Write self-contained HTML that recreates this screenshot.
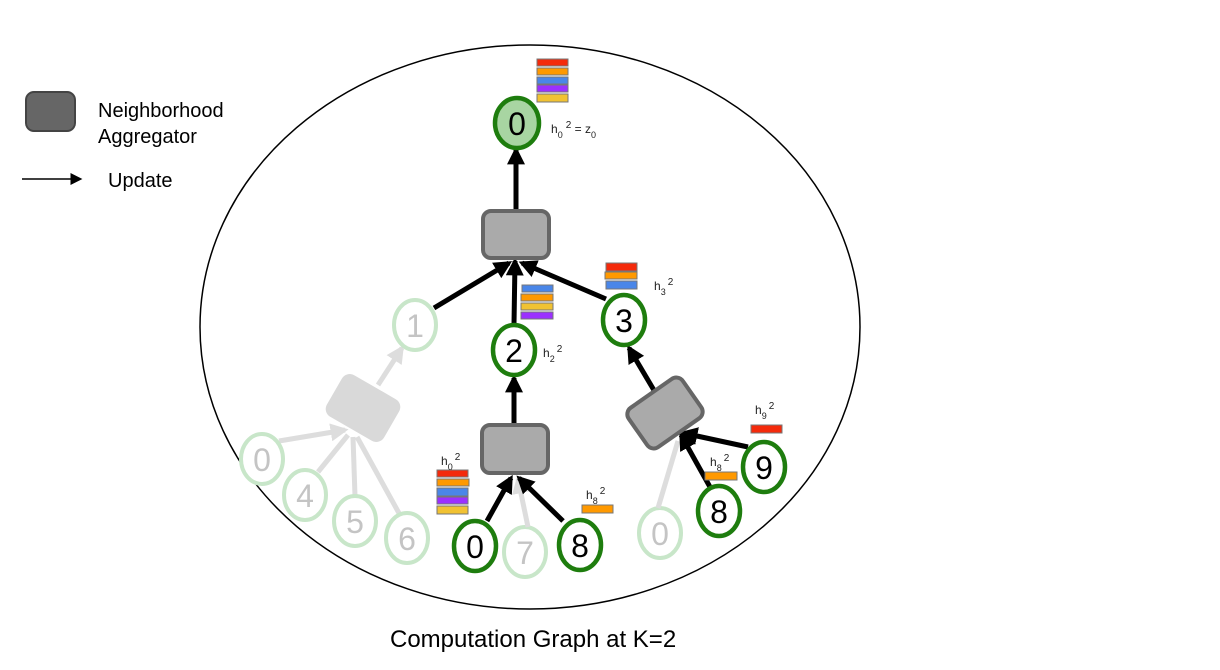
<!DOCTYPE html>
<html><head><meta charset="utf-8"><style>
html,body{margin:0;padding:0;background:#fff}
svg{display:block}
text{font-family:"Liberation Sans",Arial,sans-serif}
</style></head><body>
<svg width="1220" height="670" viewBox="0 0 1220 670" xmlns="http://www.w3.org/2000/svg">
<defs>
<marker id="ab" viewBox="0 0 10 10" refX="8" refY="5" markerWidth="3.6" markerHeight="3.6" orient="auto" markerUnits="strokeWidth"><path d="M0,0 L10,5 L0,10 z" fill="#000"/></marker>
<marker id="ag" viewBox="0 0 10 10" refX="8" refY="5" markerWidth="3.6" markerHeight="3.6" orient="auto" markerUnits="strokeWidth"><path d="M0,0 L10,5 L0,10 z" fill="#ddd"/></marker>
<marker id="al" viewBox="0 0 10 10" refX="8" refY="5" markerWidth="8" markerHeight="8" orient="auto" markerUnits="strokeWidth"><path d="M0,0 L10,5 L0,10 z" fill="#000"/></marker>
</defs>
<ellipse cx="530" cy="327" rx="330" ry="282" fill="none" stroke="#000" stroke-width="1.5"/>

<!-- legend -->
<rect x="26" y="92" width="49" height="39" rx="8" fill="#666" stroke="#444" stroke-width="2"/>
<text x="98" y="117" font-size="20">Neighborhood</text>
<text x="98" y="143" font-size="20">Aggregator</text>
<line x1="22" y1="179" x2="80" y2="179" stroke="#000" stroke-width="1.5" marker-end="url(#al)"/>
<text x="108" y="187" font-size="20">Update</text>

<!-- faded left subtree -->
<g stroke="#ddd" stroke-width="5" fill="none">
<line x1="378" y1="385" x2="402" y2="348" marker-end="url(#ag)"/>
<line x1="279" y1="441" x2="345" y2="430" marker-end="url(#ag)"/>
<line x1="318" y1="472" x2="348" y2="435"/>
<line x1="355" y1="496" x2="353" y2="437"/>
<line x1="400" y1="515" x2="357" y2="437"/>
</g>
<rect x="330" y="384" width="66" height="48" rx="9" fill="#d9d9d9" transform="rotate(30 363 408)"/>
<g fill="#fff" stroke="#c8e6c9" stroke-width="4">
<ellipse cx="415" cy="325" rx="21" ry="25"/>
<ellipse cx="262" cy="459" rx="21" ry="25"/>
<ellipse cx="305" cy="495" rx="21" ry="25"/>
<ellipse cx="355" cy="521" rx="21" ry="25"/>
<ellipse cx="407" cy="538" rx="21" ry="25"/>
<ellipse cx="525" cy="552" rx="21" ry="25"/>
<ellipse cx="660" cy="533" rx="21" ry="25"/>
</g>
<g fill="#c4c4c4" font-size="32" text-anchor="middle">
<text x="415" y="337">1</text>
<text x="262" y="471">0</text>
<text x="305" y="507">4</text>
<text x="355" y="533">5</text>
<text x="407" y="550">6</text>
<text x="525" y="564">7</text>
<text x="660" y="545">0</text>
</g>
<line x1="528" y1="527" x2="518" y2="479" stroke="#ddd" stroke-width="5" marker-end="url(#ag)"/>
<line x1="658" y1="508" x2="678" y2="441" stroke="#ddd" stroke-width="5"/>

<!-- black arrows -->
<g stroke="#000" stroke-width="5" fill="none">
<line x1="516" y1="209" x2="516" y2="150" marker-end="url(#ab)"/>
<line x1="434" y1="308" x2="509" y2="263" marker-end="url(#ab)"/>
<line x1="514" y1="324" x2="515" y2="261" marker-end="url(#ab)"/>
<line x1="606" y1="299" x2="522" y2="263" marker-end="url(#ab)"/>
<line x1="514" y1="424" x2="514" y2="378" marker-end="url(#ab)"/>
<line x1="487" y1="521" x2="511" y2="478" marker-end="url(#ab)"/>
<line x1="563" y1="521" x2="519" y2="478" marker-end="url(#ab)"/>
<line x1="655" y1="392" x2="629" y2="348" marker-end="url(#ab)"/>
<line x1="748" y1="447" x2="683" y2="433" marker-end="url(#ab)"/>
<line x1="710" y1="487" x2="681" y2="435" marker-end="url(#ab)"/>
</g>

<!-- aggregators -->
<rect x="483" y="211" width="66" height="47" rx="8" fill="#aaa" stroke="#666" stroke-width="4"/>
<rect x="482" y="425" width="66" height="48" rx="8" fill="#aaa" stroke="#666" stroke-width="4"/>
<rect x="632" y="389" width="66" height="48" rx="8" fill="#aaa" stroke="#666" stroke-width="4" transform="rotate(-35 665 413)"/>

<!-- green nodes -->
<g stroke="#1e7d0e" stroke-width="4.5">
<ellipse cx="517" cy="123" rx="22" ry="25" fill="#a8d5a2"/>
<ellipse cx="514" cy="350" rx="21" ry="25" fill="#fff"/>
<ellipse cx="624" cy="320" rx="21" ry="25" fill="#fff"/>
<ellipse cx="475" cy="546" rx="21" ry="25" fill="#fff"/>
<ellipse cx="580" cy="545" rx="21" ry="25" fill="#fff"/>
<ellipse cx="764" cy="467" rx="21" ry="25" fill="#fff"/>
<ellipse cx="719" cy="511" rx="21" ry="25" fill="#fff"/>
</g>
<g fill="#000" font-size="32" text-anchor="middle">
<text x="517" y="135">0</text>
<text x="514" y="362">2</text>
<text x="624" y="332">3</text>
<text x="475" y="558">0</text>
<text x="580" y="557">8</text>
<text x="764" y="479">9</text>
<text x="719" y="523">8</text>
</g>

<!-- feature bars -->
<g stroke="#777" stroke-width="1">
<rect x="537" y="59" width="31" height="7" fill="#f42a0b"/>
<rect x="537" y="68" width="31" height="7" fill="#ff9900"/>
<rect x="537" y="77" width="31" height="7" fill="#4a86e8"/>
<rect x="537" y="85" width="31" height="7" fill="#9b30ff"/>
<rect x="537" y="94" width="31" height="8" fill="#f1c232"/>

<rect x="522" y="285" width="31" height="7" fill="#4a86e8"/>
<rect x="521" y="294" width="32" height="7" fill="#ff9900"/>
<rect x="521" y="303" width="32" height="7" fill="#f1c232"/>
<rect x="521" y="312" width="32" height="7" fill="#9b30ff"/>

<rect x="606" y="263" width="31" height="8" fill="#f42a0b"/>
<rect x="605" y="272" width="32" height="7" fill="#ff9900"/>
<rect x="606" y="281" width="31" height="8" fill="#4a86e8"/>

<rect x="437" y="470" width="31" height="7" fill="#f42a0b"/>
<rect x="437" y="479" width="32" height="7" fill="#ff9900"/>
<rect x="437" y="488" width="31" height="8" fill="#4a86e8"/>
<rect x="437" y="497" width="31" height="7" fill="#9b30ff"/>
<rect x="437" y="506" width="31" height="8" fill="#f1c232"/>

<rect x="582" y="505" width="31" height="8" fill="#ff9900"/>
<rect x="705" y="472" width="32" height="8" fill="#ff9900"/>
<rect x="751" y="425" width="31" height="8" fill="#f42a0b"/>
</g>

<!-- labels -->
<g font-size="12" fill="#222">
<text x="551" y="133">h<tspan font-size="9" dy="5">0</tspan><tspan dy="-10" font-size="10" dx="3">2</tspan><tspan dy="5"> = z</tspan><tspan font-size="9" dy="5">0</tspan></text>
<text x="543" y="357">h<tspan font-size="9" dy="5">2</tspan><tspan font-size="10" dy="-10" dx="2">2</tspan></text>
<text x="654" y="290">h<tspan font-size="9" dy="5">3</tspan><tspan font-size="10" dy="-10" dx="2">2</tspan></text>
<text x="441" y="465">h<tspan font-size="9" dy="5">0</tspan><tspan font-size="10" dy="-10" dx="2">2</tspan></text>
<text x="586" y="499">h<tspan font-size="9" dy="5">8</tspan><tspan font-size="10" dy="-10" dx="2">2</tspan></text>
<text x="710" y="466">h<tspan font-size="9" dy="5">8</tspan><tspan font-size="10" dy="-10" dx="2">2</tspan></text>
<text x="755" y="414">h<tspan font-size="9" dy="5">9</tspan><tspan font-size="10" dy="-10" dx="2">2</tspan></text>
</g>

<text x="390" y="647" font-size="24" fill="#000">Computation Graph at K=2</text>
</svg>
</body></html>
